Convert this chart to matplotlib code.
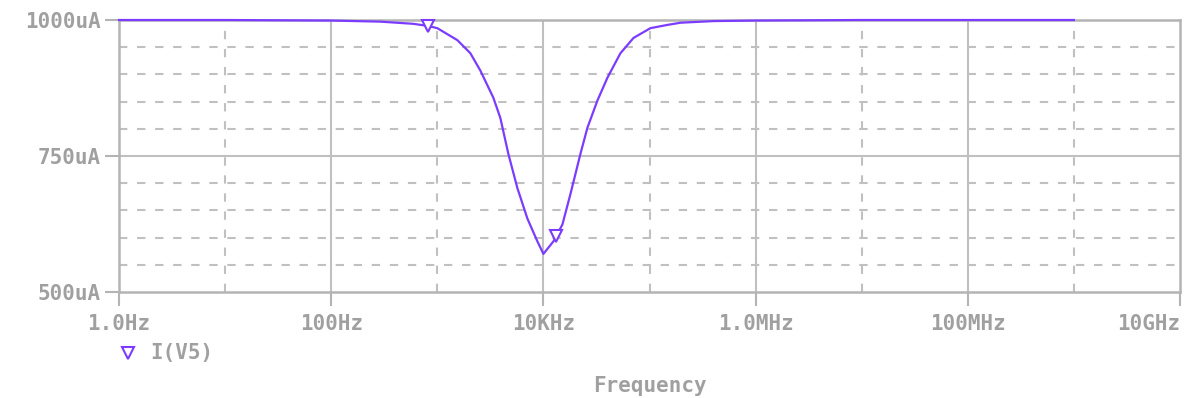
import matplotlib
matplotlib.use("Agg")
import matplotlib.pyplot as plt

# AC sweep of I(V5), in uA
freq = [1, 10, 100, 290, 594, 822, 1000, 1545, 2048, 2546, 3377, 3927, 4673,
        5686, 7066, 8780, 10000, 12420, 13270, 15100, 17980, 22340, 26000,
        32300, 40150, 53240, 70630, 102000, 147900, 196000, 400000, 1e6,
        1e7, 1e8, 1e9]
current = [1000, 1000, 999, 997, 993, 989, 985, 963, 939, 907, 857, 820, 754,
           691, 635, 593, 570, 593, 603, 624, 680, 754, 802,
           852, 894, 939, 967, 985, 991, 995, 998, 999,
           1000, 1000, 1000]
marker_idx = [5, 18]

x_ticks = [1, 1e2, 1e4, 1e6, 1e8, 1e10]
x_labels = ["1.0Hz", "100Hz", "10KHz", "1.0MHz", "100MHz", "10GHz"]
x_minor = [10, 1e3, 1e5, 1e7, 1e9]
y_ticks = [500, 750, 1000]
y_labels = ["500uA", "750uA", "1000uA"]
y_minor = [550, 600, 650, 700, 800, 850, 900, 950]

line_col = "#7b3cff"
grid_col = "#c0c0c0"
frame_col = "#b4b4b4"
text_col = "#a0a0a0"

plt.rcParams["lines.scale_dashes"] = False
plt.rcParams["font.family"] = ["DejaVu Sans Mono"]
plt.rcParams["font.weight"] = "bold"

fig = plt.figure(figsize=(11.94, 3.98), dpi=100)
ax = fig.add_axes([119 / 1194, 106 / 398, (1180 - 119) / 1194, (292 - 20) / 398])

ax.set_xscale("log")
ax.set_xlim(1, 1e10)
ax.set_ylim(500, 1000)

# grid: solid on the labelled values, dashed in between
for x in x_ticks[1:-1]:
    ax.axvline(x, color=grid_col, lw=1.5, zorder=1)
for x in x_minor:
    ax.axvline(x, color=grid_col, lw=1.5, dashes=(6, 7), zorder=1)
ax.axhline(750, color=grid_col, lw=1.5, zorder=1)
for y in y_minor:
    ax.axhline(y, color=grid_col, lw=1.5, dashes=(6, 7), zorder=1)

ax.plot(freq, current, color=line_col, lw=1.6, zorder=3, clip_on=False,
        marker="v", markevery=marker_idx, markersize=9,
        markerfacecolor="white", markeredgecolor=line_col, markeredgewidth=1.5)

for s in ax.spines.values():
    s.set_color(frame_col)
    s.set_linewidth(1.8)

ax.set_xticks(x_ticks)
ax.set_xticklabels(x_labels)
ax.set_xticks([], minor=True)
ax.set_yticks(y_ticks)
ax.set_yticklabels(y_labels)
ax.tick_params(axis="both", length=10, width=1.5, color=frame_col,
               labelcolor=text_col, labelsize=15)
ax.tick_params(axis="x", pad=6)
ax.tick_params(axis="y", pad=3)
# last frequency label sits flush with the right edge
ax.get_xticklabels()[-1].set_horizontalalignment("right")

ax.set_xlabel("Frequency", color=text_col, fontsize=15, fontweight="bold",
              labelpad=30)

# trace legend below the axis
fig.lines.append(plt.Line2D([128 / 1194], [1 - 353 / 398], transform=fig.transFigure,
                            marker="v", markersize=9, markerfacecolor="white",
                            markeredgecolor=line_col, markeredgewidth=1.5,
                            linestyle="none"))
fig.text(150 / 1194, 1 - 353 / 398, "I(V5)", color=text_col, fontsize=15,
         fontweight="bold", va="center", ha="left")

fig.savefig("out.png", dpi=100)
